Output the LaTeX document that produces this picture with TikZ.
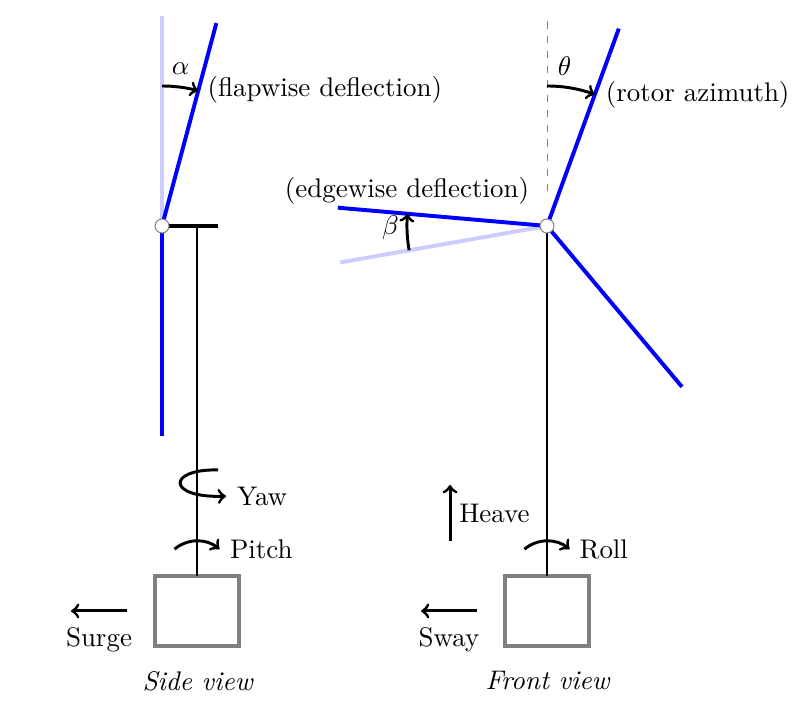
\documentclass[tikz,border=0pt,11pt]{standalone}
\usetikzlibrary{calc}
\tikzset{
	blade/.style={blue, line width=1.6pt},
	bladeref/.style={blue!20, line width=1.6pt},
	motion/.style={->, line width=1.2pt},
	tower/.style={black, line width=0.8pt},
	floater/.style={draw=gray, line width=1.3pt, minimum width=1.2cm, minimum height=1cm, inner sep=0pt, outer sep=0pt},
	hinge/.style={circle, draw=gray, fill=white, line width=0.4pt, minimum size=0.2cm, inner sep=0pt}
}
\begin{document}
\begin{tikzpicture}[x=0.5cm, y=0.5cm]
	\useasboundingbox (-5.629,-1.971) rectangle (17.286,18.457);
	% side view
	\node[floater] (boxside) at (0,1) {};
	\coordinate (hubs) at (-1,12);
	\coordinate (topside) at (0,12);
	\coordinate (nacside) at (0.6,12);
	\coordinate (refup) at (-1,18);
	\coordinate (tipup) at ($(hubs)+(75:6)$);
	\coordinate (tipdown) at (-1,6);
	\draw[bladeref] (hubs) -- (refup);
	\draw[blade] (hubs) -- (tipup);
	\draw[blade] (hubs) -- (tipdown);
	\draw[line width=1.3pt] (hubs) -- (nacside);
	\draw[tower] (boxside.north) -- (topside);
	\node[hinge] (hubside) at (hubs) {};
	\draw[motion] (-1,16) arc[start angle=90, end angle=75, radius=4];
	\draw[motion] (0.6,5.03) .. controls (-0.87,5.06) and (-0.87,4.22) .. (0.83,4.28);
	\draw[motion] (0,2)++(130:1) arc[start angle=130, end angle=50, radius=1];
	\coordinate (surgefrom) at (-2,1);
	\coordinate (surgeto) at (-3.6,1);
	\draw[motion] (surgefrom) -- (surgeto);
	\node (alphalabel) at (-0.47,16.5) {$\alpha$};
	\node[anchor=west, inner sep=0pt] (flaplabel) at (0.29,15.9) {(flapwise deflection)};
	\node[anchor=west, inner sep=0pt] (yawlabel) at (1.13,4.27) {Yaw};
	\node[anchor=west, inner sep=0pt] (pitchlabel) at (0.93,2.77) {Pitch};
	\node (surgelabel) at (-2.8,0.17) {Surge};
	\node (sidelabel) at (0.03,-1) {\textit{Side view}};
	% front view
	\node[floater] (boxfront) at (10,1) {};
	\coordinate (hubf) at (10,12);
	\coordinate (dashfrom) at (10,13);
	\coordinate (refvert) at (10,17.85);
	\coordinate (tipa) at ($(hubf)+(70:6)$);
	\coordinate (tipb) at ($(hubf)+(175:6)$);
	\coordinate (tipc) at ($(hubf)+(-50:6)$);
	\coordinate (tipref) at ($(hubf)+(190:6)$);
	\draw[gray, dashed, line width=0.4pt] (dashfrom) -- (refvert);
	\draw[bladeref] (hubf) -- (tipref);
	\draw[blade] (hubf) -- (tipa);
	\draw[blade] (hubf) -- (tipb);
	\draw[blade] (hubf) -- (tipc);
	\draw[tower] (boxfront.north) -- (hubf);
	\node[hinge] (hubfront) at (hubf) {};
	\draw[motion] (10,16) arc[start angle=90, end angle=70, radius=4];
	\draw[motion] (hubf)++(190:4) arc[start angle=190, end angle=175, radius=4];
	\draw[motion] (10,2)++(130:1) arc[start angle=130, end angle=50, radius=1];
	\coordinate (swayfrom) at (8,1);
	\coordinate (swayto) at (6.4,1);
	\coordinate (heavefrom) at (7.23,3);
	\coordinate (heaveto) at (7.23,4.6);
	\draw[motion] (swayfrom) -- (swayto);
	\draw[motion] (heavefrom) -- (heaveto);
	\node (thetalabel) at (10.5,16.57) {$\theta$};
	\node (betalabel) at (5.53,11.95) {$\beta$};
	\node[anchor=west, inner sep=0pt] (rotorlabel) at (11.67,15.75) {(rotor azimuth)};
	\node (edgelabel) at (6,13) {(edgewise deflection)};
	\node[anchor=west, inner sep=0pt] (heavelabel) at (7.48,3.8) {Heave};
	\node[anchor=west, inner sep=0pt] (rolllabel) at (10.92,2.77) {Roll};
	\node (swaylabel) at (7.2,0.17) {Sway};
	\node (frontlabel) at (10.03,-1) {\textit{Front view}};
\end{tikzpicture}
\end{document}
